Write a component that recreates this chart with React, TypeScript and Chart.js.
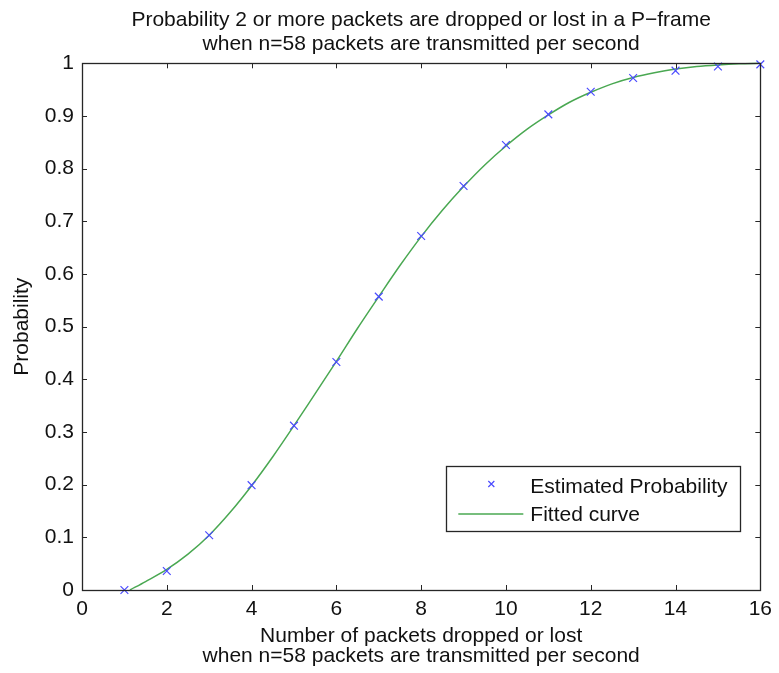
import React, { useEffect, useRef } from "react";
import { Chart, registerables } from "chart.js";

Chart.register(...registerables);

// Estimated probability at each packet count
const packetCounts = [1, 2, 3, 4, 5, 6, 7, 8, 9, 10, 11, 12, 13, 14, 15, 16];
const estimatedProb = [0, 0.036, 0.104, 0.199, 0.312, 0.433, 0.557, 0.672, 0.767, 0.845, 0.903, 0.946, 0.972, 0.986, 0.994, 0.998];

// Fitted curve sampled along x
const curveX = [1.13, 1.5, 2, 2.5, 3, 3.5, 4, 4.5, 5, 5.5, 6, 6.5, 7, 7.5, 8, 8.5, 9, 9.5, 10, 10.5, 11, 11.5, 12, 12.5, 13, 13.5, 14, 14.5, 15, 15.5, 16];
const curveY = [0, 0.016, 0.039, 0.068, 0.104, 0.148, 0.198, 0.253, 0.312, 0.373, 0.434, 0.497, 0.557, 0.616, 0.671, 0.721, 0.766, 0.807, 0.843, 0.875, 0.902, 0.926, 0.945, 0.961, 0.973, 0.982, 0.989, 0.994, 0.997, 0.999, 1.0];

const xTicks = [0, 2, 4, 6, 8, 10, 12, 14, 16];
const yTicks = [0, 0.1, 0.2, 0.3, 0.4, 0.5, 0.6, 0.7, 0.8, 0.9, 1];

const titleLines = [
  "Probability 2 or more packets are dropped or lost in a P\u2212frame",
  "when n=58 packets are transmitted per second",
];
const xTitleLines = [
  "Number of packets dropped or lost",
  "when n=58 packets are transmitted per second",
];
const yTitle = "Probability";

const FONT = "'Liberation Sans', Helvetica, Arial, sans-serif";
const FONT_SIZE = 21;
const TEXT_COLOR = "#111111";
const AXIS_COLOR = "#262626";
const MARKER_COLOR = "#4b4bff";
const CURVE_COLOR = "#4aa852";

// Box around the plot with inward ticks on every side
const frameAndTicks = {
  id: "frameAndTicks",
  afterDatasetsDraw(chart: any) {
    const { ctx, chartArea: a, scales } = chart;
    const len = 5;
    ctx.save();
    ctx.strokeStyle = AXIS_COLOR;
    ctx.lineWidth = 1;
    ctx.beginPath();
    for (const v of xTicks) {
      const px = Math.round(scales.x.getPixelForValue(v)) + 0.5;
      ctx.moveTo(px, a.bottom);
      ctx.lineTo(px, a.bottom - len);
      ctx.moveTo(px, a.top);
      ctx.lineTo(px, a.top + len);
    }
    for (const v of yTicks) {
      const py = Math.round(scales.y.getPixelForValue(v)) + 0.5;
      ctx.moveTo(a.left, py);
      ctx.lineTo(a.left + len, py);
      ctx.moveTo(a.right, py);
      ctx.lineTo(a.right - len, py);
    }
    ctx.stroke();
    ctx.lineWidth = 1.3;
    ctx.strokeRect(Math.round(a.left) + 0.5, Math.round(a.top) + 0.5, Math.round(a.right - a.left), Math.round(a.bottom - a.top));
    ctx.restore();
  },
};

// Legend box in the lower right of the plot
const boxLegend = {
  id: "boxLegend",
  afterDraw(chart: any) {
    const { ctx, chartArea: a } = chart;
    const w = 294;
    const h = 65;
    const right = a.right - 20;
    const bottom = a.bottom - 59;
    const left = right - w;
    const top = bottom - h;
    ctx.save();
    ctx.fillStyle = "#ffffff";
    ctx.fillRect(left, top, w, h);
    ctx.strokeStyle = AXIS_COLOR;
    ctx.lineWidth = 1.3;
    ctx.strokeRect(Math.round(left) + 0.5, Math.round(top) + 0.5, w, h);

    const row1 = top + 21;
    const row2 = top + 49;
    // marker sample
    const mx = left + 45;
    const my = row1 - 3;
    const r = 3;
    ctx.strokeStyle = MARKER_COLOR;
    ctx.lineWidth = 1.2;
    ctx.beginPath();
    ctx.moveTo(mx - r, my - r);
    ctx.lineTo(mx + r, my + r);
    ctx.moveTo(mx + r, my - r);
    ctx.lineTo(mx - r, my + r);
    ctx.stroke();
    // line sample
    ctx.strokeStyle = CURVE_COLOR;
    ctx.lineWidth = 1.3;
    ctx.beginPath();
    ctx.moveTo(left + 12, row2 - 1);
    ctx.lineTo(left + 77, row2 - 1);
    ctx.stroke();

    ctx.fillStyle = TEXT_COLOR;
    ctx.font = `${FONT_SIZE}px ${FONT}`;
    ctx.textBaseline = "middle";
    ctx.textAlign = "left";
    const labels = chart.data.datasets.map((d: any) => d.label);
    ctx.fillText(labels[0], left + 84, row1);
    ctx.fillText(labels[1], left + 84, row2);
    ctx.restore();
  },
};

export default function App() {
  const canvasRef = useRef<HTMLCanvasElement | null>(null);

  useEffect(() => {
    const canvas = canvasRef.current;
    if (!canvas) return;
    const chart = new Chart(canvas, {
      type: "line",
      data: {
        datasets: [
          {
            label: "Estimated Probability",
            type: "scatter",
            data: packetCounts.map((x, i) => ({ x, y: estimatedProb[i] })),
            showLine: false,
            pointStyle: "crossRot",
            pointRadius: 5.5,
            pointBorderWidth: 1.2,
            borderColor: MARKER_COLOR,
            backgroundColor: MARKER_COLOR,
            clip: false,
            order: 0,
          } as any,
          {
            label: "Fitted curve",
            type: "line",
            data: curveX.map((x, i) => ({ x, y: curveY[i] })),
            borderColor: CURVE_COLOR,
            borderWidth: 1.5,
            pointRadius: 0,
            cubicInterpolationMode: "monotone",
            fill: false,
            clip: 2,
            order: 1,
          } as any,
        ],
      },
      options: {
        responsive: false,
        animation: false,
        devicePixelRatio: 1,
        layout: { padding: { left: 0, top: 0, right: 17, bottom: 0 } },
        plugins: {
          legend: { display: false },
          tooltip: { enabled: false },
          title: {
            display: true,
            fullSize: false,
            text: titleLines,
            color: TEXT_COLOR,
            font: { family: FONT, size: FONT_SIZE, weight: "normal", lineHeight: 1.15 },
            padding: { top: 8, bottom: 7 },
          },
        },
        scales: {
          x: {
            type: "linear",
            min: 0,
            max: 16,
            afterBuildTicks: (s: any) => {
              s.ticks = xTicks.map((v) => ({ value: v }));
            },
            afterFit: (s: any) => {
              s.height = 83;
            },
            grid: { display: false, drawTicks: false },
            border: { display: false },
            ticks: {
              color: TEXT_COLOR,
              font: { family: FONT, size: FONT_SIZE },
              padding: 7,
              maxRotation: 0,
              callback: (v: any) => String(v),
            },
            title: {
              display: true,
              text: xTitleLines,
              color: TEXT_COLOR,
              font: { family: FONT, size: FONT_SIZE, lineHeight: 0.96 },
              padding: { top: 0, bottom: 7 },
            },
          },
          y: {
            type: "linear",
            min: 0,
            max: 1,
            afterBuildTicks: (s: any) => {
              s.ticks = yTicks.map((v) => ({ value: v }));
            },
            afterFit: (s: any) => {
              s.width = 82;
            },
            grid: { display: false, drawTicks: false },
            border: { display: false },
            ticks: {
              color: TEXT_COLOR,
              font: { family: FONT, size: FONT_SIZE },
              padding: 8,
              callback: (v: any) => String(Math.round(Number(v) * 10) / 10),
            },
            title: {
              display: true,
              text: yTitle,
              color: TEXT_COLOR,
              font: { family: FONT, size: FONT_SIZE, lineHeight: 1.15 },
              padding: { top: 10, bottom: 0 },
            },
          },
        },
      },
      plugins: [frameAndTicks, boxLegend],
    });
    return () => chart.destroy();
  }, []);

  return (
    <div style={{ position: "fixed", left: 0, top: 0, width: 779, height: 673, background: "#ffffff" }}>
      <canvas ref={canvasRef} width={779} height={673} style={{ display: "block" }} />
    </div>
  );
}
